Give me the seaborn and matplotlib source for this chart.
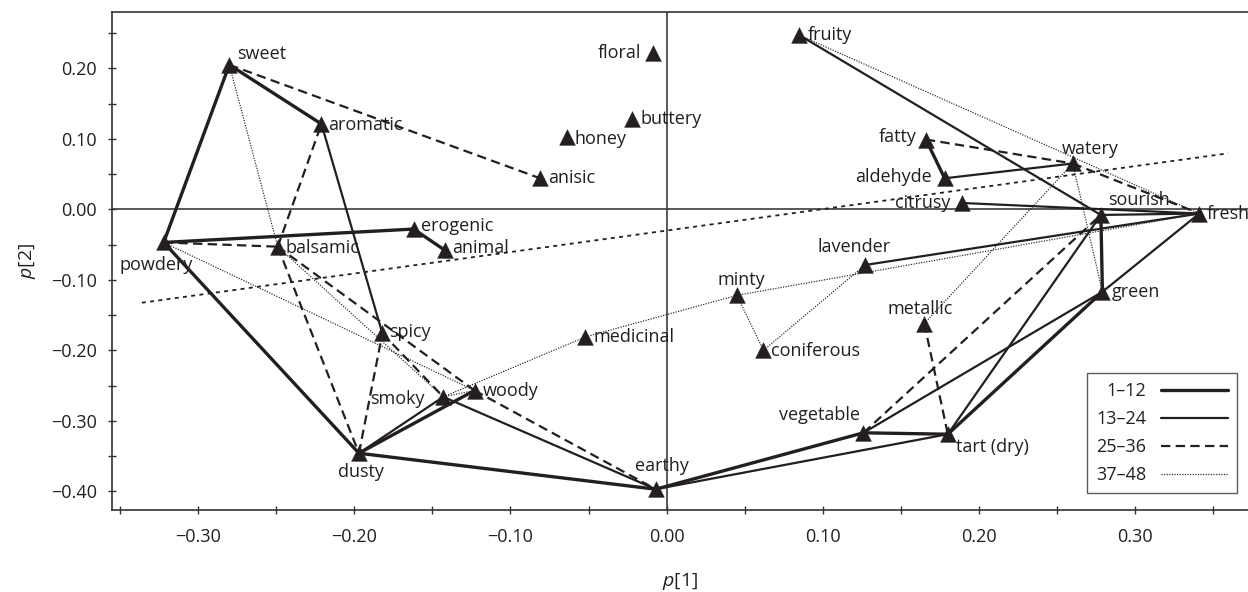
import matplotlib
matplotlib.use("Agg")
import matplotlib.pyplot as plt
from matplotlib.lines import Line2D
from matplotlib.ticker import MultipleLocator, FuncFormatter
import seaborn as sns
import pandas as pd

# ---------------- data ----------------
attributes = ["sweet", "aromatic", "powdery", "balsamic", "erogenic", "animal",
              "spicy", "smoky", "woody", "dusty", "earthy", "medicinal",
              "floral", "buttery", "honey", "anisic", "minty", "coniferous",
              "fruity", "fatty", "aldehyde", "watery", "citrusy", "sourish",
              "fresh", "lavender", "green", "metallic", "vegetable", "tart (dry)"]
p1 = [-0.280, -0.221, -0.322, -0.249, -0.162, -0.142,
      -0.182, -0.143, -0.123, -0.197, -0.007, -0.052,
      -0.009, -0.022, -0.064, -0.081, 0.045, 0.062,
      0.085, 0.166, 0.178, 0.260, 0.189, 0.278,
      0.341, 0.127, 0.279, 0.165, 0.126, 0.180]
p2 = [0.205, 0.121, -0.047, -0.053, -0.028, -0.058,
      -0.176, -0.266, -0.257, -0.346, -0.397, -0.181,
      0.222, 0.128, 0.102, 0.044, -0.122, -0.200,
      0.247, 0.099, 0.044, 0.065, 0.009, -0.008,
      -0.006, -0.079, -0.117, -0.162, -0.317, -0.319]

group_labels = ["1\u201312", "13\u201324", "25\u201336", "37\u201348"]
links_1_12 = [("animal", "erogenic"), ("erogenic", "powdery"), ("powdery", "sweet"),
              ("sweet", "aromatic"), ("powdery", "dusty"), ("dusty", "woody"),
              ("dusty", "earthy"), ("earthy", "vegetable"), ("vegetable", "tart (dry)"),
              ("tart (dry)", "green"), ("green", "sourish"), ("fatty", "aldehyde")]
links_13_24 = [("aromatic", "spicy"), ("dusty", "smoky"), ("smoky", "earthy"),
               ("earthy", "tart (dry)"), ("tart (dry)", "sourish"), ("vegetable", "green"),
               ("green", "fresh"), ("lavender", "fresh"), ("citrusy", "fresh"),
               ("sourish", "fresh"), ("fruity", "sourish"), ("aldehyde", "watery")]
links_25_36 = [("sweet", "anisic"), ("powdery", "balsamic"), ("balsamic", "aromatic"),
               ("balsamic", "dusty"), ("dusty", "spicy"), ("spicy", "smoky"),
               ("balsamic", "woody"), ("woody", "earthy"), ("vegetable", "sourish"),
               ("metallic", "tart (dry)"), ("fatty", "watery"), ("watery", "fresh")]
links_37_48 = [("sweet", "balsamic"), ("balsamic", "smoky"), ("powdery", "woody"),
               ("smoky", "woody"), ("smoky", "medicinal"), ("medicinal", "minty"),
               ("minty", "coniferous"), ("coniferous", "lavender"), ("minty", "fresh"),
               ("metallic", "watery"), ("watery", "green"), ("fruity", "fresh")]

trend_p1 = [-0.336, 0.3595]
trend_p2 = [-0.1325, 0.0794]

# ---------------- style ----------------
sns.set_theme(style="white")
plt.rcParams["font.family"] = ["Open Sans", "DejaVu Sans"]
plt.rcParams["mathtext.fontset"] = "custom"
plt.rcParams["mathtext.it"] = "Open Sans:italic"
plt.rcParams["mathtext.rm"] = "Open Sans"
plt.rcParams["axes.unicode_minus"] = True

INK = "#231f20"

fig = plt.figure(figsize=(12.48, 5.92), dpi=100)
ax = fig.add_axes([112 / 1248, (592 - 510) / 592, (1248 - 112) / 1248, (510 - 11.7) / 592])

pts = pd.DataFrame({"attr": attributes, "p1": p1, "p2": p2})
pos = {a: (x, y) for a, x, y in zip(attributes, p1, p2)}

def links_frame(links):
    rows = []
    for i, (a, b) in enumerate(links):
        for n in (a, b):
            rows.append({"seg": i, "p1": pos[n][0], "p2": pos[n][1]})
    return pd.DataFrame(rows)

styles = [
    dict(linewidth=2.4, linestyle="-"),
    dict(linewidth=1.6, linestyle="-"),
    dict(linewidth=1.6, linestyle=(0, (4.2, 2.4))),
    dict(linewidth=0.85, linestyle=(0, (1, 1.2))),
]

for links, st in zip([links_1_12, links_13_24, links_25_36, links_37_48], styles):
    df = links_frame(links)
    sns.lineplot(data=df, x="p1", y="p2", units="seg", estimator=None, sort=False,
                 color=INK, ax=ax, legend=False, zorder=2, **st)

# trend line
sns.lineplot(x=trend_p1, y=trend_p2, color=INK, linewidth=1.3,
             linestyle=(0, (2.2, 2.4)), ax=ax, legend=False, zorder=2)

# zero lines
ax.axhline(0, color="#3c3c3c", linewidth=1.2, zorder=1)
ax.axvline(0, color="#3c3c3c", linewidth=1.2, zorder=1)

sns.scatterplot(data=pts, x="p1", y="p2", marker="^", s=130, color=INK,
                edgecolor=INK, linewidth=0.3, ax=ax, zorder=4, legend=False)

# labels: (dx px, dy px (down positive), ha)
lab = {
    "sweet": (8, -11, "left"), "aromatic": (7, 1, "left"), "powdery": (-8, 23, "center"),
    "balsamic": (8, 1, "left"), "erogenic": (7, -3, "left"), "animal": (7, -2, "left"),
    "spicy": (7, -1, "left"), "smoky": (-19, 2, "right"), "woody": (8, 0, "left"),
    "dusty": (2, 19, "center"), "earthy": (6, -23, "center"), "medicinal": (8, 0, "left"),
    "floral": (-12, 0, "right"), "buttery": (8, 0, "left"), "honey": (8, 2, "left"),
    "anisic": (8, 0, "left"), "minty": (4, -15, "center"), "coniferous": (8, 1, "left"),
    "fruity": (8, 0, "left"), "fatty": (-9, -3, "right"), "aldehyde": (-13, -1, "right"),
    "watery": (17, -14, "center"), "citrusy": (-11, 0, "right"), "sourish": (38, -15, "center"),
    "fresh": (7, 0, "left"), "lavender": (-11, -18, "center"), "green": (9, 0, "left"),
    "metallic": (-4, -15, "center"), "vegetable": (-44, -18, "center"),
    "tart (dry)": (8, 13, "left"),
}
for a, x, y in zip(attributes, p1, p2):
    dx, dy, ha = lab[a]
    ax.annotate(a, (x, y), xytext=(dx * 0.72, -dy * 0.72), textcoords="offset points",
                ha=ha, va="center", fontsize=13, color=INK, zorder=5)

# axes
ax.set_xlim(-0.3551, 0.3722)
ax.set_ylim(-0.4265, 0.2803)
ax.xaxis.set_major_locator(MultipleLocator(0.1))
ax.xaxis.set_minor_locator(MultipleLocator(0.05))
ax.yaxis.set_major_locator(MultipleLocator(0.1))
ax.yaxis.set_minor_locator(MultipleLocator(0.05))
fmt = FuncFormatter(lambda v, p: ("\u2212" if v < -1e-9 else "") + f"{abs(v):.2f}")
ax.xaxis.set_major_formatter(fmt)
ax.yaxis.set_major_formatter(fmt)
ax.tick_params(which="both", direction="inout", length=6, width=1.0, color="#333333",
               labelsize=13, labelcolor=INK, bottom=True, left=True)
ax.tick_params(axis="x", which="both", pad=10)
ax.tick_params(axis="y", which="both", pad=8)
for s in ["top", "left", "bottom"]:
    ax.spines[s].set_color("#333333")
    ax.spines[s].set_linewidth(1.2)
ax.spines["right"].set_visible(False)

ax.set_xlabel(r"$\mathit{p}$[1]", fontsize=14, color=INK, va="center")
ax.set_ylabel(r"$\mathit{p}$[2]", fontsize=14, color=INK, va="center")
ax.xaxis.set_label_coords(0.5, (510 - 582) / 498.3)
ax.yaxis.set_label_coords((27 - 112) / 1136, 0.5)

handles = [Line2D([], [], color=INK, **st) for st in styles]
leg = ax.legend(handles, group_labels, loc="lower right",
                bbox_to_anchor=((1236.7 - 112) / 1136, (510 - 493.3) / 498.3),
                borderaxespad=0, frameon=True, fancybox=False, markerfirst=False,
                handlelength=3.7, handletextpad=0.8, labelspacing=0.55,
                fontsize=13, borderpad=0.5)
leg.get_frame().set_edgecolor("#333333")
leg.get_frame().set_linewidth(1.0)
for t in leg.get_texts():
    t.set_color(INK)

fig.savefig("out.png", dpi=100)
